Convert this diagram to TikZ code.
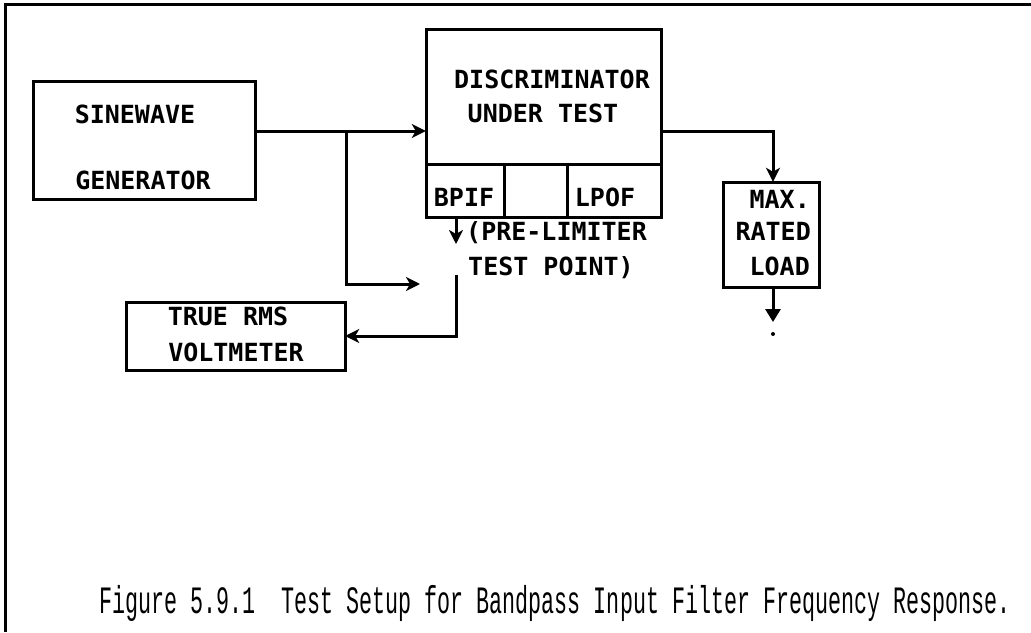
\documentclass[tikz,border=0pt]{standalone}
\usepackage{fontspec}
\setmainfont{Liberation Sans}
\newfontfamily\lblfont{DejaVu Sans Mono}
\newfontfamily\capfont{Liberation Mono}
\usetikzlibrary{arrows.meta}
\begin{document}
\begin{tikzpicture}[x=1pt,y=-1pt,
  box/.style={draw=black,line width=3pt},
  wire/.style={draw=black,line width=3pt},
  arr/.style={wire,-{Stealth[length=14pt,width=14pt,inset=4pt]}},
  fatarr/.style={wire,-{Triangle[length=13pt,width=15pt]}},
  lbl/.style={inner sep=0pt,font=\lblfont\bfseries\fontsize{25}{25}\selectfont},
  frame/.style={draw=black,line width=3.5pt}]
\useasboundingbox (0,0) rectangle (1031,632);
% frame (top and left only)
\draw[frame] (1031,4.5) -- (5.5,4.5) -- (5.5,632);
% boxes
\draw[box] (33,81) rectangle (255,199);
\draw[box] (426,29) rectangle (661,217);
\draw[box] (426,164) -- (661,164);
\draw[box] (504,164) -- (504,217);
\draw[box] (567,164) -- (567,217);
\draw[box] (723,182) rectangle (819,287);
\draw[box] (126,302) rectangle (345,370);
% named anchor nodes for boxes
\node[inner sep=0pt,minimum width=222pt,minimum height=118pt] (gen) at (144,140) {};
\node[inner sep=0pt,minimum width=235pt,minimum height=188pt] (disc) at (543.5,123) {};
\node[inner sep=0pt,minimum width=96pt,minimum height=105pt] (load) at (771,234.5) {};
\node[inner sep=0pt,minimum width=219pt,minimum height=68pt] (rms) at (235.5,336) {};
% labels
\node[lbl,anchor=base] (t1) at (135,123) {SINEWAVE};
\node[lbl,anchor=base] (t2) at (143,189) {GENERATOR};
\node[lbl,anchor=base] (t3) at (552,88) {DISCRIMINATOR};
\node[lbl,anchor=base] (t4) at (543,122) {UNDER TEST};
\node[lbl,anchor=base] (t5) at (464,206) {BPIF};
\node[lbl,anchor=base] (t6) at (605,206) {LPOF};
\node[lbl,anchor=base west] (t7) at (466,240) {(PRE-LIMITER};
\node[lbl,anchor=base west] (t8) at (468,275) {TEST POINT)};
\node[lbl,anchor=base east] (t9) at (810,208) {MAX.};
\node[lbl,anchor=base east] (t10) at (811,240) {RATED};
\node[lbl,anchor=base east] (t11) at (810,275) {LOAD};
\node[lbl,anchor=base] (t12) at (228,325) {TRUE RMS};
\node[lbl,anchor=base] (t13) at (236,361) {VOLTMETER};
% caption
\node[inner sep=0pt,anchor=base west] (cap) at (99,613)
  {\scalebox{0.7}[1.25]{\capfont\fontsize{31}{31}\selectfont Figure 5.9.1\ \ Test Setup for Bandpass Input Filter Frequency Response.}};
% connectors
\coordinate (br) at (346,131);
\coordinate (br2) at (346,284);
\coordinate (tp) at (420,284);
\draw[arr] (gen.east |- br) -- (disc.west |- br);
\draw[arr] (br) -- (br2) -- (tp);
\coordinate (oc) at (773,131);
\draw[arr] (disc.east |- oc) -- (oc) -- (oc |- load.north);
\coordinate (lo) at (773,322);
\draw[fatarr] (oc |- load.south) -- (lo);
\fill (773,334) circle (2pt);
\coordinate (pl1) at (456,217);
\coordinate (pl2) at (456,244);
\draw[arr] (pl1) -- (pl2);
\coordinate (v1) at (456,275);
\coordinate (v2) at (456,336);
\draw[arr] (v1) -- (v2) -- (rms.east |- v2);
\end{tikzpicture}
\end{document}
